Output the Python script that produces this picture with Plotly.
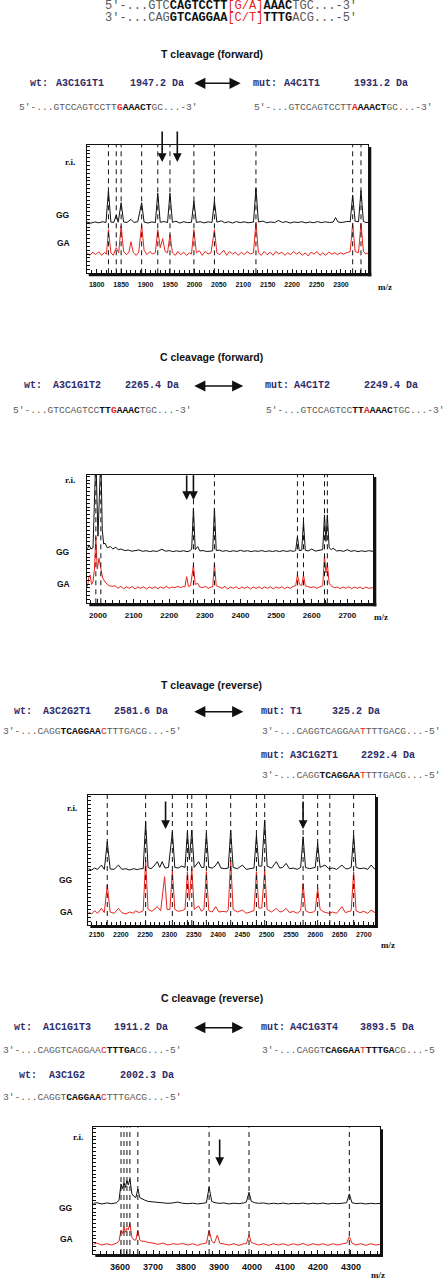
import plotly.graph_objects as go

W, H = 445, 1280

# ---- spectra: (m/z, relative intensity above the trace baseline) ----
P1_GG = [(1780, 0.5), (1788, -0.3), (1796, 0.6), (1804, 0), (1812, 0.8), (1819, 0.2), (1824, 25), (1829, 0.5),
         (1835, 0.3), (1840, 6), (1844, 0.4), (1850, 15.6), (1855, 0.6), (1862, 0.2), (1870, 2.6), (1876, 0.3),
         (1884, 0.8), (1892, 15.6), (1897, 0.5), (1905, -0.2), (1913, 0.7), (1920, 0.1), (1925, 23), (1930, 0.4),
         (1938, 0.9), (1945, 0.2), (1950, 23), (1955, 0.3), (1962, 1.2), (1970, -0.2), (1978, 0.8), (1986, 0.1),
         (1994, 0.4), (1999, 17), (2004, 0.3), (2012, 0.8), (2020, -0.1), (2028, 0.7), (2036, 0.2), (2041, 17),
         (2046, 0.5), (2055, 1.5), (2062, 0), (2070, 0.8), (2078, -0.2), (2086, 0.9), (2094, 0.1), (2102, 0.7),
         (2110, 0), (2121, 0.5), (2126, 27), (2131, 0.6), (2140, 1.3), (2148, 0), (2156, 0.6), (2164, 0.1),
         (2172, 1.8), (2180, 0.2), (2188, 0.9), (2196, -0.2), (2204, 0.6), (2212, 0.2), (2220, 0.8), (2228, -0.1),
         (2236, 0.6), (2244, 0), (2252, 0.9), (2260, 0.1), (2268, 0.7), (2276, 0.2), (2284, 0.5), (2289, 4),
         (2294, 0.6), (2300, 0.2), (2306, 0.5), (2312, 1), (2319, 0.8), (2324, 21.6), (2329, 1.2), (2336, 0.8),
         (2341, 25), (2346, 1), (2351, 0.2), (2356, 0.4)]
P1_GA = [(1780, 1), (1786, -1), (1792, 1.5), (1798, -0.5), (1804, 1.8), (1810, -1), (1816, 1.2), (1820, 0),
         (1824, 19), (1829, 1), (1834, -1), (1840, 5), (1845, 1), (1850, 22), (1855, 2), (1861, -0.5), (1866, 1.5),
         (1870, 9.6), (1875, 1), (1881, -1), (1886, 1.5), (1892, 22.6), (1897, 3), (1903, -0.5), (1909, 2),
         (1914, 0), (1920, 1), (1925, 19), (1930, 5), (1935, 12), (1940, 2), (1945, 1), (1950, 15), (1955, 1),
         (1961, -1), (1966, 2), (1972, -0.5), (1978, 1.5), (1984, -1), (1990, 1), (1994, 0), (1999, 19), (2004, 1),
         (2010, 2.6), (2016, -1), (2022, 2), (2028, 0), (2034, 1), (2041, 19), (2046, 1), (2052, -0.5), (2060, 3),
         (2066, -1), (2072, 2), (2078, 0), (2084, 1.5), (2090, -1), (2096, 1.5), (2102, -0.5), (2108, 2), (2114, 0),
         (2121, 1), (2126, 25), (2131, 1), (2137, -1), (2143, 2), (2149, -0.5), (2155, 1.5), (2161, -1), (2167, 2),
         (2173, 0), (2179, 1.5), (2185, -1), (2191, 1), (2197, -0.5), (2203, 2), (2209, 0), (2215, 1.5), (2221, -1),
         (2227, 1), (2233, -1.5), (2239, 1.5), (2245, 0), (2251, 2), (2257, -1), (2263, 1), (2269, -1), (2275, 1.5),
         (2281, 0), (2287, 1), (2293, -0.5), (2299, 1), (2305, 0), (2312, 1), (2319, 2), (2324, 24), (2329, 2),
         (2336, 1), (2341, 24), (2346, 2), (2351, 0), (2356, 1)]

P2_GG = [(1970, 2), (1975, 5.2), (1980, 2), (1986, 3), (1994, 75), (2000, 12), (2008, 75), (2012, 17), (2016, 6),
         (2020, 6.5), (2026, 3), (2035, 3.9), (2042, 2), (2050, 3.4), (2057, 1.5), (2065, 2), (2075, 0.8),
         (2085, 1.2), (2095, 0.3), (2105, 0.8), (2115, 1.3), (2125, 0.2), (2135, 0.7), (2145, 0), (2155, 0.6),
         (2165, 0.1), (2180, 1.8), (2190, 0.3), (2200, 0.8), (2210, 0), (2220, 0.6), (2230, 0.1), (2240, 0.7),
         (2250, 0), (2258, 0.5), (2263, 2), (2268, 34), (2273, 1.5), (2280, 3.9), (2286, 0.5), (2295, 0.8),
         (2305, 0.1), (2315, 0.6), (2322, 0.5), (2327, 34), (2332, 0.8), (2340, 1.2), (2350, 0.2), (2360, 0.8),
         (2370, 0), (2380, 0.7), (2390, 0.1), (2400, 1), (2410, 0.2), (2420, 0.7), (2430, 0), (2440, 0.6),
         (2450, 0.2), (2460, 0.8), (2470, 0), (2480, 0.6), (2490, 0.1), (2500, 0.7), (2510, 0), (2520, 0.8),
         (2530, 0.1), (2540, 0.7), (2549, 0.2), (2555, 0.8), (2560, 11.7), (2565, 0.8), (2572, 1), (2577, 23.4),
         (2582, 1), (2590, 0.5), (2600, 2), (2610, 0.4), (2620, 1), (2631, 1.5), (2636, 28.6), (2640, 8),
         (2644, 28.6), (2649, 3), (2655, 1.5), (2660, 2.6), (2670, 0.5), (2680, 0.8), (2690, 0.2), (2700, 1.5),
         (2710, 0.2), (2720, 0.8), (2730, 0), (2740, 0.6), (2750, 0.1), (2760, 0.7), (2773, 0.2)]
P2_GA = [(1970, 1), (1974, 8), (1978, 10.4), (1982, 3), (1986, 5), (1990, 15), (1994, 40), (1998, 15), (2003, 23.4),
         (2008, 17), (2013, 8), (2020, 5), (2026, 3), (2032, 2), (2040, 1.5), (2048, 2), (2056, 0), (2064, 1.5),
         (2072, -0.5), (2080, 1.2), (2088, 0), (2096, 1.5), (2104, -0.5), (2112, 1), (2120, 0), (2128, 1.2),
         (2136, -0.5), (2144, 1), (2152, 0), (2160, 1.2), (2168, -0.3), (2176, 1), (2184, 0), (2192, 1.5), (2200, 0),
         (2208, 1), (2216, 0.5), (2224, 1.5), (2232, 0.5), (2240, 1.5), (2244, 1), (2249, 9.1), (2254, 1.5),
         (2260, 2), (2268, 18.2), (2273, 3), (2280, 3.9), (2286, 1), (2294, 0.5), (2302, 1.5), (2310, 0), (2318, 1),
         (2322, 1), (2327, 19.5), (2332, 2), (2340, 1), (2348, 0), (2356, 1.5), (2364, -0.5), (2372, 1), (2380, 0),
         (2388, 1.2), (2396, -0.5), (2404, 1), (2412, 0), (2420, 1.2), (2428, -0.5), (2436, 1), (2444, 0),
         (2452, 1.2), (2460, -0.3), (2468, 1), (2476, 0), (2484, 1.2), (2492, -0.5), (2500, 1), (2508, 0),
         (2516, 1.2), (2524, -0.3), (2532, 1), (2540, 0), (2548, 1.5), (2555, 2), (2560, 10.4), (2566, 3),
         (2572, 2), (2577, 10.4), (2582, 2), (2590, 1), (2598, 0.5), (2606, 1.2), (2614, 0), (2622, 1), (2631, 2),
         (2636, 26), (2640, 12), (2644, 19.5), (2649, 4), (2656, 1.5), (2664, 0.5), (2672, 1), (2680, -0.3),
         (2688, 1), (2696, 0), (2704, 1.2), (2712, -0.3), (2720, 1), (2728, 0), (2736, 1), (2744, -0.5), (2752, 1),
         (2760, 0), (2773, 0.5)]

P3_GG = [(2133, 1), (2140, 0), (2146, 1.5), (2152, 0.5), (2160, 3.8), (2166, 0.5), (2172, 21.8), (2178, 0.8),
         (2186, 0.5), (2195, 3.8), (2202, 0.5), (2210, 1), (2218, 0), (2226, 1), (2234, 0.3), (2240, 1), (2246, 1),
         (2251, 37.2), (2256, 2), (2262, 1), (2268, 3), (2275, 6.4), (2280, 2), (2285, 6.4), (2291, 1.5), (2298, 2),
         (2306, 29.5), (2311, 2), (2318, 1.5), (2325, 3), (2332, 2), (2337, 29.5), (2341, 8), (2346, 30.8),
         (2351, 2), (2360, 6.4), (2366, 2), (2371, 2), (2376, 28.2), (2381, 2), (2388, 1.5), (2394, 3), (2400, 6.4),
         (2406, 1.5), (2414, 1), (2421, 1.5), (2426, 30.8), (2431, 2), (2440, 1), (2450, 3.8), (2458, 0.5),
         (2466, 1), (2474, 1.5), (2479, 26.9), (2484, 3), (2490, 3), (2496, 38.5), (2501, 3), (2510, 1.5),
         (2520, 6.4), (2527, 1.5), (2533, 2), (2540, 5.1), (2547, 1), (2555, 1.5), (2563, 0.5), (2570, 2),
         (2575, 25.6), (2580, 2), (2588, 1), (2596, 1.5), (2600, 2), (2605, 20.5), (2610, 2), (2620, 3.8),
         (2628, 1), (2636, 1.5), (2644, 0.5), (2655, 3.8), (2662, 1), (2668, 1), (2674, 2), (2679, 26.9),
         (2684, 2), (2692, 1), (2700, 1.5), (2708, 0.5), (2715, 3.8), (2723, 0.5)]
P3_GA = [(2133, 1), (2140, -0.5), (2146, 2), (2152, 0), (2160, 3.8), (2166, 0.5), (2172, 21.8), (2178, 1),
         (2186, 0), (2195, 3.8), (2202, 0.5), (2210, -0.5), (2218, 1), (2226, 0), (2230, 2), (2238, 0.5), (2246, 2),
         (2251, 41), (2256, 3), (2264, 1.5), (2275, 5.1), (2282, 2), (2290, 28.2), (2295, 3), (2301, 3),
         (2306, 33.3), (2311, 3), (2318, 1.5), (2325, 2), (2332, 3), (2337, 32), (2341, 10), (2346, 34.6),
         (2351, 3), (2360, 5.6), (2366, 1.5), (2371, 3), (2376, 32), (2381, 2), (2388, 1), (2395, 5.1), (2402, 1),
         (2410, 1.5), (2418, 1), (2421, 3), (2426, 41), (2431, 3), (2440, 1), (2450, 2.5), (2458, 0), (2466, 1),
         (2474, 2), (2479, 32), (2484, 4), (2490, 4), (2496, 33.3), (2501, 3), (2510, 1), (2520, 3.8), (2527, 1),
         (2533, 1.5), (2540, 3.8), (2547, 0.5), (2555, 1.5), (2563, 0), (2570, 2), (2575, 23), (2580, 2),
         (2588, 0.5), (2596, 1), (2600, 2), (2605, 19.2), (2610, 3), (2618, 1), (2628, 0), (2636, 1), (2644, 0),
         (2655, 5.1), (2662, 0.5), (2668, 1), (2674, 2), (2679, 32), (2684, 2), (2692, 0.5), (2700, 1.5),
         (2708, 0), (2715, 2.5), (2723, 0.5)]

P4_GG = [(3519, 0.5), (3530, 1), (3545, 0), (3560, 0.8), (3575, 0.2), (3590, 1), (3597, 3), (3603, 15.8),
         (3608, 12), (3612, 17), (3616, 13), (3621, 18.4), (3625, 15), (3630, 19.7), (3636, 8), (3642, 6),
         (3648, 5), (3654, 11.8), (3660, 5), (3666, 4), (3675, 3), (3685, 2), (3700, 1.5), (3715, 1), (3730, 1),
         (3745, 0.5), (3760, 0.8), (3775, 1.5), (3790, 0.5), (3805, 0.2), (3820, 0.6), (3835, 0), (3850, 0.5),
         (3862, 1), (3870, 13.2), (3878, 2), (3888, 1), (3900, 0.5), (3915, 0.8), (3930, 0), (3945, 0.6),
         (3960, 0.2), (3975, 0.8), (3983, 1.5), (3991, 9.2), (3998, 2), (4008, 1), (4020, 0.5), (4035, 0.8),
         (4050, 0), (4065, 0.6), (4080, 0.1), (4095, 0.7), (4110, 0), (4125, 0.5), (4140, 0.2), (4155, 0.7),
         (4170, 0), (4185, 0.6), (4200, 0.1), (4215, 0.7), (4230, 0), (4245, 0.5), (4260, 0.2), (4275, 0.6),
         (4287, 1), (4295, 7.9), (4303, 1), (4315, 0.3), (4330, 0.6), (4345, 0), (4360, 0.5), (4375, 0.2),
         (4388, 0.4)]
P4_GA = [(3519, 0.5), (3530, 1.5), (3545, 0), (3560, 1), (3575, 0), (3590, 1.5), (3597, 3), (3603, 11.8),
         (3608, 9), (3612, 14.5), (3616, 10), (3621, 13.2), (3625, 12), (3630, 17), (3636, 6), (3642, 4),
         (3648, 4), (3654, 11.8), (3660, 4), (3666, 3), (3675, 3), (3685, 2), (3700, 1.5), (3715, 0.5),
         (3730, 1.5), (3745, 0), (3760, 1), (3775, 0.5), (3790, 1.2), (3805, 0), (3820, 1), (3835, -0.3),
         (3850, 1), (3862, 1.5), (3870, 11.8), (3878, 3), (3886, 1.5), (3895, 7.9), (3902, 1.5), (3915, 1),
         (3930, 0), (3945, 1), (3960, -0.3), (3975, 1), (3983, 1), (3991, 7.9), (3998, 2), (4008, 1), (4020, 0),
         (4035, 1), (4050, -0.3), (4065, 1), (4080, 0), (4095, 1), (4110, -0.3), (4125, 1), (4140, 0),
         (4155, 1.2), (4170, -0.3), (4185, 1), (4200, 0), (4215, 1), (4230, -0.3), (4245, 1), (4260, 0),
         (4275, 1), (4287, 1.5), (4295, 6.6), (4303, 1.5), (4315, 0), (4330, 1), (4345, -0.3), (4360, 1),
         (4375, 0), (4388, 0.5)]

# dashed marker lines (m/z) and arrowed fragments (m/z)
P1_DASH = [1824, 1840, 1850, 1892, 1925, 1950, 1999, 2041, 2126, 2324, 2341]
P2_DASH = [1994, 2008, 2268, 2327, 2560, 2577, 2636, 2644]
P3_DASH = [2172, 2251, 2306, 2337, 2346, 2376, 2426, 2479, 2496, 2575, 2605, 2630, 2679]
P4_DASH = [3603, 3612, 3621, 3630, 3654, 3870, 3991, 4295]
P1_ARROWS = [1934, 1965]
P2_ARROWS = [2249, 2268]
P3_ARROWS = [2292, 2575]
P4_ARROWS = [3902]

P1_TICKS = [1800, 1850, 1900, 1950, 2000, 2050, 2100, 2150, 2200, 2250, 2300]
P2_TICKS = [2000, 2100, 2200, 2300, 2400, 2500, 2600, 2700]
P3_TICKS = [2150, 2200, 2250, 2300, 2350, 2400, 2450, 2500, 2550, 2600, 2650, 2700]
P4_TICKS = [3600, 3700, 3800, 3900, 4000, 4100, 4200, 4300]

TITLES = ["T cleavage (forward)", "C cleavage (forward)", "T cleavage (reverse)", "C cleavage (reverse)"]

BLACK = "#111111"
RED = "#e8241c"
NAVY = "#2e2c6a"
GRAY = "#5a5a5a"
MONO = "Liberation Mono, Courier New, monospace"
SANS = "Liberation Sans, Arial, sans-serif"
SERIF = "Liberation Serif, Times New Roman, serif"
SEQ_SIZE = 9.6


def px(x):
    return x / W


def py(y):
    return 1 - y / H


def g(t):
    return f"<span style='color:{GRAY}'>{t}</span>"


def b(t):
    return f"<b>{t}</b>"


def r(t):
    return f"<span style='color:{RED}'>{t}</span>"


# panel geometry in pixels: (left, right, top, bottom), x range, offsets, ticks
panels = [
    dict(box=(86.7, 368.3, 145, 273.3), rng=(1779.5, 2356), gg=P1_GG, ga=P1_GA, off=(39.4, 15.0),
         dash=P1_DASH, arrows=P1_ARROWS, arr=(130, 162), ticks=P1_TICKS, minor=10, tfs=7, std=4,
         ri=(70, 161.7), ggl=(63.3, 215), gal=(63.3, 243.3), mz=(385, 287)),
    dict(box=(87.3, 373.3, 475, 603.3), rng=(1970, 2773), gg=P2_GG, ga=P2_GA, off=(40.3, 11.7),
         dash=P2_DASH, arrows=P2_ARROWS, arr=(474, 500), ticks=P2_TICKS, minor=20, tfs=8, std=4,
         ri=(70, 480), ggl=(63.3, 551.7), gal=(63.3, 584), mz=(381, 617)),
    dict(box=(88.3, 375, 795, 925), rng=(2133, 2723), gg=P3_GG, ga=P3_GA, off=(42.3, 9.0),
         dash=P3_DASH, arrows=P3_ARROWS, arr=(800, 829), ticks=P3_TICKS, minor=10, tfs=7, std=3,
         ri=(71.7, 807.7), ggl=(66, 880), gal=(66, 911.7), mz=(388, 945)),
    dict(box=(93.3, 380, 1127.3, 1254), rng=(3519, 4388), gg=P4_GG, ga=P4_GA, off=(39.5, 7.1),
         dash=P4_DASH, arrows=P4_ARROWS, arr=(1138, 1166), ticks=P4_TICKS, minor=20, tfs=9, std=4,
         ri=(78.3, 1136.7), ggl=(66, 1208.3), gal=(66, 1239.3), mz=(378, 1275)),
]

fig = go.Figure()
shapes = []
annotations = []


def txt(x, y, text, size=10, color=BLACK, family=MONO, anchor="left"):
    annotations.append(dict(x=px(x), y=py(y), xref="paper", yref="paper", text=text, showarrow=False,
                            xanchor=anchor, yanchor="middle", borderpad=0,
                            font=dict(family=family, size=size, color=color)))


def seq(x, y, text):
    txt(x, y, text, size=SEQ_SIZE)


layout_axes = {}
for i, p in enumerate(panels, start=1):
    sfx = "" if i == 1 else str(i)
    xa, ya = f"x{sfx}", f"y{sfx}"
    l, rgt, t, bt = p["box"]
    for spec, off, col in ((p["gg"], p["off"][0], BLACK), (p["ga"], p["off"][1], RED)):
        fig.add_trace(go.Scatter(x=[s[0] for s in spec], y=[s[1] + off for s in spec], mode="lines",
                                 line=dict(color=col, width=1), xaxis=xa, yaxis=ya, showlegend=False,
                                 hoverinfo="skip"))
    layout_axes[f"xaxis{sfx}"] = dict(
        domain=[px(l), px(rgt)], range=list(p["rng"]), anchor=ya, showgrid=False, zeroline=False,
        showline=True, mirror=True, linecolor=BLACK, linewidth=1, ticks="inside", ticklen=4,
        tickcolor=BLACK, tickvals=p["ticks"], ticklabelstandoff=p["std"],
        tickfont=dict(family=SANS, size=p["tfs"], color=BLACK, weight="bold"),
        minor=dict(dtick=p["minor"], ticks="inside", ticklen=3, tickcolor=BLACK), fixedrange=True)
    layout_axes[f"yaxis{sfx}"] = dict(
        domain=[py(bt), py(t)], range=[0, 100], anchor=xa, showgrid=False, zeroline=False,
        showline=True, mirror=True, linecolor=BLACK, linewidth=1, ticks="inside", ticklen=3,
        tickcolor=BLACK, dtick=3, showticklabels=False, fixedrange=True)
    # dashed marker lines
    for m in p["dash"]:
        shapes.append(dict(type="line", xref=xa, yref=f"{ya} domain", x0=m, x1=m, y0=0, y1=1,
                           line=dict(color=BLACK, width=1, dash="5px,4px")))
    # heavy shadow on right and bottom edges
    shapes.append(dict(type="line", xref="paper", yref="paper", x0=px(rgt + 1.5), x1=px(rgt + 1.5),
                       y0=py(bt + 3), y1=py(t + 2), line=dict(color=BLACK, width=3)))
    shapes.append(dict(type="line", xref="paper", yref="paper", x0=px(l + 2), x1=px(rgt + 3),
                       y0=py(bt + 1.5), y1=py(bt + 1.5), line=dict(color=BLACK, width=3)))
    # fragment arrows
    y0a, y1a = p["arr"]
    for m in p["arrows"]:
        annotations.append(dict(x=m, y=py(y1a), xref=xa, yref="paper", ax=0, ay=-(y1a - y0a),
                                axref="pixel", ayref="pixel", text="", showarrow=True, arrowhead=2,
                                arrowsize=1.1, arrowwidth=1.6, arrowcolor=BLACK))
    txt(*p["ri"], "<b>r.i.</b>", size=9, family=SERIF, anchor="center")
    txt(*p["ggl"], "<b>GG</b>", size=8.5, family=SANS, anchor="center")
    txt(*p["gal"], "<b>GA</b>", size=8.5, family=SANS, anchor="center")
    txt(*p["mz"], "<b>m/z</b>", size=9, family=SERIF, anchor="center")

title_y = [54, 357.3, 685, 998.3]
for ttl, yy in zip(TITLES, title_y):
    txt(211.7, yy, f"<b>{ttl}</b>", size=10.5, family=SANS, anchor="center")


def dbl_arrow(x0, x1, y):
    annotations.append(dict(x=px(x1), y=py(y), xref="paper", yref="paper", ax=-(x1 - x0), ay=0,
                            axref="pixel", ayref="pixel", text="", showarrow=True, arrowhead=2,
                            startarrowhead=2, arrowside="end+start", arrowsize=1.6, startarrowsize=1.6,
                            arrowwidth=1.4, arrowcolor=BLACK))


def label(x, y, t):
    txt(x, y, f"<b>{t}</b>", size=10, color=NAVY)


# header sequences
txt(104, 6, g("5'-...GTC") + b("CAGTCCTT") + r("[G/A]") + b("AAAC") + g("TGC...-3'"), size=12)
txt(104, 18.3, g("3'-...CAG") + b("GTCAGGAA") + r("[C/T]") + b("TTTG") + g("ACG...-5'"), size=12)

# panel 1
label(29, 83.3, "wt:"); label(55, 83.3, "A3C1G1T1"); label(129, 83.3, "1947.2 Da")
label(251.7, 83.3, "mut:"); label(283, 83.3, "A4C1T1"); label(352.7, 83.3, "1931.2 Da")
dbl_arrow(192.7, 240.7, 83.3)
seq(18, 107.7, g("5'-...GTCCAGTCCTT") + r("<b>G</b>") + b("AAACT") + g("GC...-3'"))
seq(252.7, 107.7, g("5'-...GTCCAGTCCTT") + r("<b>A</b>") + b("AAACT") + g("GC...-3'"))

# panel 2
label(23, 386, "wt:"); label(52.3, 386, "A3C1G1T2"); label(124, 386, "2265.4 Da")
label(264, 386, "mut:"); label(292.7, 386, "A4C1T2"); label(363, 386, "2249.4 Da")
dbl_arrow(192.7, 243.3, 386)
seq(12.3, 410, g("5'-...GTCCAGTCC") + b("TT") + r("<b>G</b>") + b("AAAC") + g("TGC...-3'"))
seq(265, 410, g("5'-...GTCCAGTCC") + b("TT") + r("<b>A</b>") + b("AAAC") + g("TGC...-3'"))

# panel 3
label(12.7, 711.7, "wt:"); label(41.7, 711.7, "A3C2G2T1"); label(113, 711.7, "2581.6 Da")
label(260, 711.7, "mut:"); label(289.3, 711.7, "T1"); label(331, 711.7, "325.2 Da")
dbl_arrow(192.7, 243.3, 711.7)
seq(1.7, 731.7, g("3'-...CAGG") + b("TCAGGAA") + r("C") + g("TTTGACG...-5'"))
seq(260.7, 731.7, g("3'-...CAGGTCAGGAA") + r("T") + g("TTTGACG...-5'"))
label(260, 755, "mut:"); label(289.3, 755, "A3C1G2T1"); label(360, 755, "2292.4 Da")
seq(260.7, 775, g("3'-...CAGG") + b("TCAGGAA") + r("T") + g("TTTGACG...-5'"))

# panel 4
label(12.7, 1027.7, "wt:"); label(41.7, 1027.7, "A1C1G1T3"); label(113, 1027.7, "1911.2 Da")
label(260, 1027.7, "mut:"); label(289.3, 1027.7, "A4C1G3T4"); label(359, 1027.7, "3893.5 Da")
dbl_arrow(192.7, 243.3, 1027.7)
seq(1.7, 1050.7, g("3'-...CAGGTCAGGAA") + r("C") + b("TTTGA") + g("CG...-5'"))
seq(260.7, 1050.7, g("3'-...CAGGT") + b("CAGGAA") + r("T") + b("TTTGA") + g("CG...-5"))
label(18, 1075, "wt:"); label(47.7, 1075, "A3C1G2"); label(119, 1075, "2002.3 Da")
seq(1.7, 1097.7, g("3'-...CAGGT") + b("CAGGAA") + r("C") + g("TTTGACG...-5'"))

fig.update_layout(width=W, height=H, margin=dict(l=0, r=0, t=0, b=0), paper_bgcolor="white",
                  plot_bgcolor="white", shapes=shapes, annotations=annotations, **layout_axes)
# drop the browser's default 8px body margin so the figure sits at the page origin
fig.write_html("out.html", config={"displayModeBar": False},
               post_script="document.body.style.margin = '0px';")
